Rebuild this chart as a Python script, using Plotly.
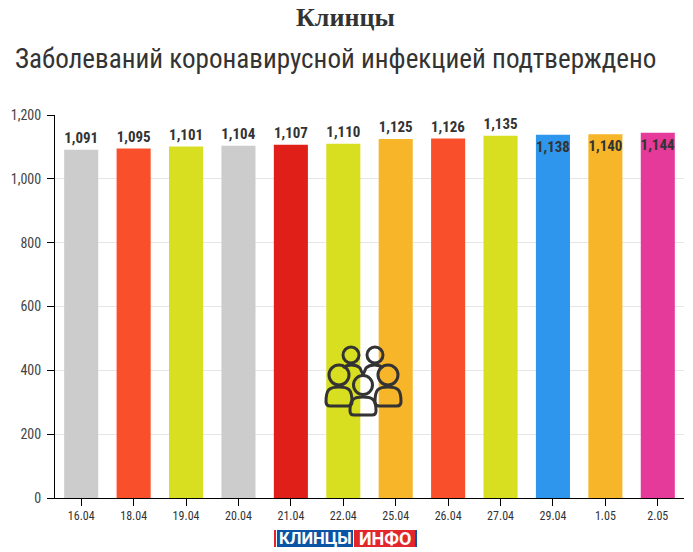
import plotly.graph_objects as go

categories = ["16.04","18.04","19.04","20.04","21.04","22.04","25.04","26.04","27.04","29.04","1.05","2.05"]
values = [1091,1095,1101,1104,1107,1110,1125,1126,1135,1138,1140,1144]
colors = ["#cccccc","#f94f2b","#d7df20","#cccccc","#e01f19","#d7df20","#f7b62a","#f94f2b","#d7df20","#2e96ec","#f7b62a","#e63a9b"]
positions = ["outside"]*9 + ["inside"]*3
title_text = "Клинцы"
subtitle_text = "Заболеваний коронавирусной инфекцией подтверждено"
W, H = 693, 552
ML, MR, MT, MB = 55, 9, 115, 54
NARROW = "Roboto Condensed, Liberation Sans Narrow, Roboto, sans-serif"
DARK = "#333333"

fig = go.Figure(go.Bar(
    x=categories, y=values, marker=dict(color=colors, line=dict(width=0)),
    text=[f"{v:,}" for v in values], textposition=positions, insidetextanchor="end",
    textangle=0, cliponaxis=False, constraintext="none",
    textfont=dict(family=NARROW, size=15, color=DARK, weight="bold"),
    hoverinfo="x+y"))

def px(x): return (x - ML) / (W - ML - MR)
def py(y): return (H - MB - y) / (H - MT - MB)

def pth(points):
    out = []
    for cmd, *c in points:
        s = cmd
        for i in range(0, len(c), 2):
            s += f" {px(c[i]):.5f},{py(c[i+1]):.5f}"
        out.append(s)
    return " ".join(out)

shapes = []
def stroke(points):
    shapes.append(dict(type="path", xref="paper", yref="paper", path=pth(points),
                       line=dict(color=DARK, width=3), fillcolor="rgba(0,0,0,0)"))
def head(cx, cy, r):
    shapes.append(dict(type="circle", xref="paper", yref="paper",
                       x0=px(cx-r), x1=px(cx+r), y0=py(cy+r), y1=py(cy-r),
                       line=dict(color=DARK, width=3), fillcolor="rgba(0,0,0,0)"))
def body(cx, top, w, bottom):
    l, r = cx - w, cx + w
    stroke([("M", l, bottom-4), ("C", l, top+3, cx-w*0.8, top, cx, top),
            ("C", cx+w*0.8, top, r, top+3, r, bottom-4),
            ("C", r, bottom-1, r-2, bottom, r-4, bottom),
            ("L", l+4, bottom),
            ("C", l+2, bottom, l, bottom-1, l, bottom-4)])

head(351, 355, 8); head(375, 355, 8)
stroke([("M", 343, 368), ("C", 347, 364, 356, 364, 360, 368), ("L", 363, 375)])
stroke([("M", 383, 368), ("C", 379, 364, 370, 364, 366, 368), ("L", 363, 375)])
head(339, 375, 10); head(388, 375, 10)
head(363, 385, 9.5)
body(339, 387, 13, 406)
body(388, 387, 13, 406)
body(363, 397, 13, 415)

def rect(x0, x1, y0, y1, c):
    shapes.append(dict(type="rect", xref="paper", yref="paper", x0=px(x0), x1=px(x1),
                       y0=py(y1), y1=py(y0), fillcolor=c, line=dict(width=0), layer="below"))
rect(274, 276, 530, 547, "#e3262b")
rect(277, 353, 530, 547, "#0a54a5")
rect(354, 415, 530, 547, "#e3262b")
rect(415, 417, 530, 547, "#0a54a5")

def note(text, x, y, family, size, color, weight="normal", xanchor="center"):
    return dict(text=text, x=px(x), y=py(y), xref="paper", yref="paper", showarrow=False,
                xanchor=xanchor, yanchor="middle",
                font=dict(family=family, size=size, color=color, weight=weight))

annotations = [
    note(title_text, 345, 18, "Liberation Serif, serif", 26, DARK, "bold"),
    note(subtitle_text, 13, 59, NARROW, 27.1, DARK, xanchor="left"),
    note("КЛИНЦЫ", 315, 538.5, "Roboto, sans-serif", 16.6, "#ffffff", "bold"),
    note("ИНФО", 385, 538.5, "Roboto, sans-serif", 18, "#ffffff", "bold"),
]

fig.update_layout(
    width=W, height=H, paper_bgcolor="#ffffff", plot_bgcolor="#ffffff", showlegend=False,
    margin=dict(l=ML, r=MR, t=MT, b=MB), bargap=0.35, shapes=shapes, annotations=annotations,
    xaxis=dict(type="category", ticks="outside", ticklen=7, tickcolor="#000000", showline=True,
               linecolor="#000000", linewidth=1, showgrid=False,
               tickfont=dict(family=NARROW, size=12, color=DARK)),
    yaxis=dict(range=[0,1200], tickvals=[0,200,400,600,800,1000,1200], tickformat=",", ticks="outside",
               ticklen=7, tickcolor="#000000", showline=True, linecolor="#000000", linewidth=1,
               gridcolor="#e6e6e6", zeroline=False, ticklabelstandoff=3,
               tickfont=dict(family=NARROW, size=14, color="#444444")),
)
fig.write_html("out.html", post_script="document.body.style.margin='0';", config=dict(displayModeBar=False))
